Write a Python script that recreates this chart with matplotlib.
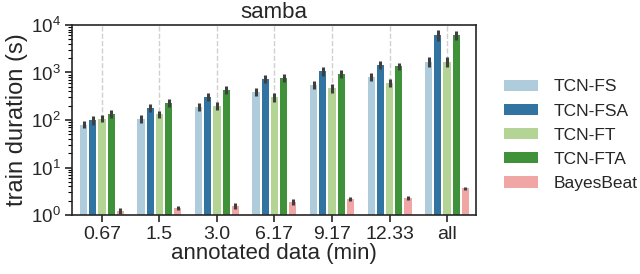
import colorsys
import numpy as np
import matplotlib
matplotlib.use("Agg")
from matplotlib import pyplot as plt
from matplotlib import colors as mcolors
from matplotlib.ticker import LogLocator

plt.rcParams['font.family'] = ['Liberation Sans', 'DejaVu Sans']
plt.rcParams['mathtext.fontset'] = 'custom'
plt.rcParams['mathtext.rm'] = 'Liberation Sans'
plt.rcParams['mathtext.default'] = 'regular'

groups = ['0.67', '1.5', '3.0', '6.17', '9.17', '12.33', 'all']
models = ['TCN-FS', 'TCN-FSA', 'TCN-FT', 'TCN-FTA', 'BayesBeat']

tcn_fs = [79, 105, 188, 388, 545, 804, 1660]
tcn_fsa = [98, 181, 303, 718, 1050, 1440, 6070]
tcn_ft = [106, 132, 196, 303, 465, 590, 1660]
tcn_fta = [135, 229, 426, 779, 940, 1350, 6070]
bayesbeat = [1.21, 1.43, 1.57, 1.88, 2.17, 2.31, 3.65]

# relative half-size of the error bars
err_fs = [0.18, 0.2, 0.2, 0.2, 0.22, 0.22, 0.3]
err_fsa = [0.22, 0.22, 0.22, 0.22, 0.22, 0.2, 0.3]
err_ft = [0.18, 0.2, 0.22, 0.25, 0.25, 0.22, 0.3]
err_fta = [0.22, 0.22, 0.22, 0.22, 0.2, 0.2, 0.25]
err_bb = [0.15, 0.1, 0.15, 0.15, 0.12, 0.1, 0.08]

values = [tcn_fs, tcn_fsa, tcn_ft, tcn_fta, bayesbeat]
errs = [err_fs, err_fsa, err_ft, err_fta, err_bb]
base = ['#a6cee3', '#1f78b4', '#b2df8a', '#33a02c', '#fb9a99']


def desat(c, s=0.75):
    r, g, b = mcolors.to_rgb(c)
    h, l, sat = colorsys.rgb_to_hls(r, g, b)
    return colorsys.hls_to_rgb(h, l, sat * s)


cols = [desat(c) for c in base]
txt = '#262626'

fig = plt.figure(figsize=(6.4, 2.74), dpi=100)
ax = fig.add_axes([0.1125, 0.215, 0.631, 0.694])

x = np.arange(len(groups))
slot = 0.16
for i, (m, v, e) in enumerate(zip(models, values, errs)):
    v = np.array(v, float)
    e = np.array(e, float)
    pos = x - 0.4 + slot * (i + 0.5)
    ax.bar(pos, v, width=0.125, color=cols[i], label=m, zorder=2)
    ax.errorbar(pos, v, yerr=[v - v / (1 + e), v * e], fmt='none',
                ecolor='#3f3f3f', elinewidth=2.2, capsize=0, zorder=3)

ax.set_yscale('log')
ax.set_ylim(1, 1e4)
ax.yaxis.set_major_locator(LogLocator(base=10, numticks=10))
ax.yaxis.set_minor_locator(LogLocator(base=10, subs=np.arange(2, 10), numticks=10))
ax.set_xlim(-0.52, 6.5)
ax.set_xticks(x)
ax.set_xticklabels(groups)
for xi in x:
    ax.axvline(xi, color='#d0d0d0', ls='--', lw=1, zorder=1)

ax.tick_params(axis='x', labelsize=14)
ax.tick_params(axis='y', labelsize=13.5)
ax.tick_params(axis='both', colors=txt, direction='out')
ax.tick_params(axis='both', which='major', length=5, width=1.2, pad=3)
ax.tick_params(axis='y', which='minor', length=3, width=0.8)
for s in ax.spines.values():
    s.set_color(txt)
    s.set_linewidth(1.2)

ax.set_title('samba', fontsize=16, color=txt, pad=5)
ax.set_xlabel('annotated data (min)', fontsize=16, color=txt, labelpad=0)
ax.set_ylabel('train duration (s)', fontsize=17, color=txt, labelpad=2)

leg = ax.legend(loc='center left', bbox_to_anchor=(1.03, 0.42), frameon=False,
                fontsize=12.5, handlelength=2.0, handleheight=0.6,
                labelspacing=0.53, handletextpad=0.9)
for t in leg.get_texts():
    t.set_color(txt)

fig.savefig('out.png', dpi=100)
